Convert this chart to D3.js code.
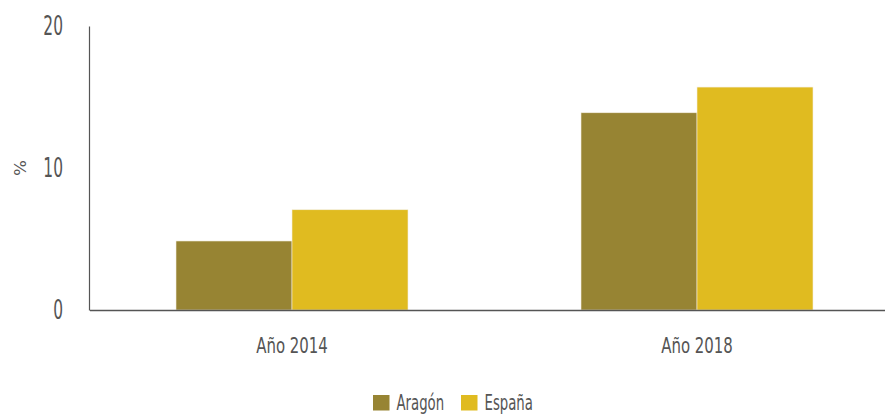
<!DOCTYPE html>
<html><head><meta charset="utf-8">
<script src="https://cdn.jsdelivr.net/npm/d3@7"></script>
<style>body{margin:0;background:#fff}svg{display:block}text{font-family:"DejaVu Sans Condensed","Liberation Sans Narrow",sans-serif;fill:#555}</style>
</head><body><div id="chart"></div>
<script>
const categories = ["Año 2014", "Año 2018"];
const seriesNames = ["Aragón", "España"];
const aragon = [4.86, 13.89];
const espana = [7.06, 15.70];
const yTicks = [0, 10, 20];
const colors = ["#978433", "#E0BB20"];

const W = 885, H = 417;
const svg = d3.select("#chart").append("svg").attr("width", W).attr("height", H);
const x = d3.scaleBand().domain(categories).range([89.5, 899.5]);
const y = d3.scaleLinear().domain([0, 20]).range([310, 26]);
const inner = d3.scaleBand().domain(seriesNames).range([0, 232]);
const groupOffset = (x.bandwidth() - 232) / 2;
const values = [aragon, espana];

const g = svg.append("g");
categories.forEach((c, i) => {
  seriesNames.forEach((s, j) => {
    g.append("rect")
      .attr("x", x(c) + groupOffset + inner(s))
      .attr("y", y(values[j][i]))
      .attr("width", inner.bandwidth())
      .attr("height", y(0) - y(values[j][i]))
      .attr("fill", colors[j])
      .attr("stroke", "#f3efe0").attr("stroke-width", 0.6);
  });
});

// y axis
const ySx = 0.66;
const yAxis = svg.append("g").attr("transform", "translate(89,0)")
  .call(d3.axisLeft(y).tickValues(yTicks).tickSize(0));
yAxis.select(".domain").attr("stroke", "#555").attr("stroke-width", 1.2);
yAxis.selectAll(".tick text").style("font-size", "26px").attr("fill", "#555")
  .attr("x", -26 / ySx).attr("transform", `scale(${ySx},1)`);

// x axis
const xSx = 0.81;
const xAxis = svg.append("g").attr("transform", "translate(0,310)")
  .call(d3.axisBottom(x).tickSize(0).tickPadding(28));
xAxis.select(".domain").attr("stroke", "#555").attr("stroke-width", 1.5);
xAxis.selectAll(".tick text").style("font-size", "20.5px").attr("fill", "#555")
  .attr("transform", `scale(${xSx},1)`);

svg.append("text").attr("transform", "translate(26,168) rotate(-90) scale(1.25,1)")
  .attr("text-anchor", "middle").style("font-size", "15px").text("%");

// legend
const legSx = 0.72;
const leg = svg.append("g");
const legX = [373, 461];
seriesNames.forEach((s, j) => {
  leg.append("rect").attr("x", legX[j]).attr("y", 395).attr("width", 16.5).attr("height", 15.5).attr("fill", colors[j]);
  leg.append("text").attr("transform", `translate(${legX[j] + 23.5},410) scale(${legSx},1)`)
    .style("font-size", "20.5px").text(s);
});
</script></body></html>
